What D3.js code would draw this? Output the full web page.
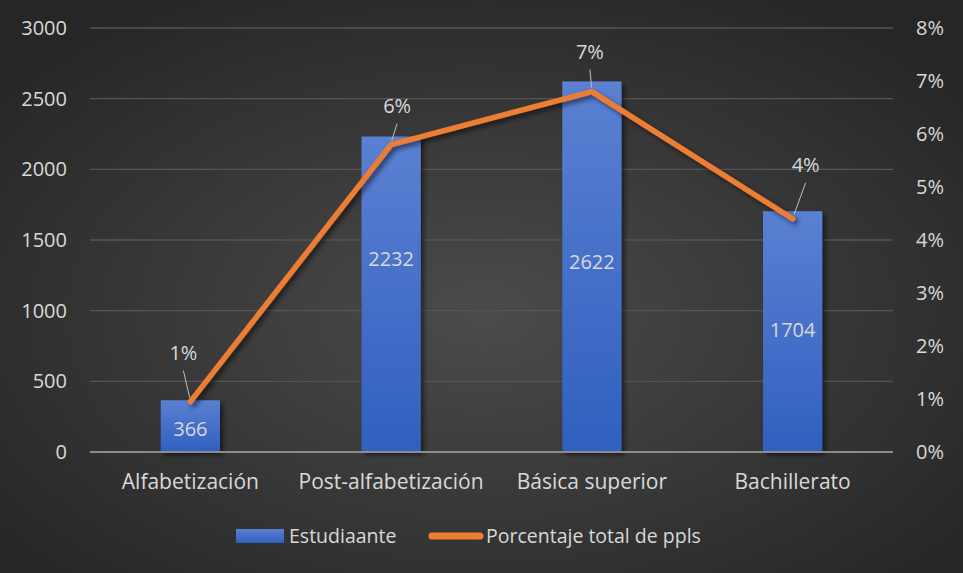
<html>
<head>
<meta charset="utf-8">
<title>Estudiantes</title>
<script src="https://d3js.org/d3.v7.min.js"></script>
<style>
  body { margin: 0; background: #2a2a2a; }
  text { font-family: "Open Sans", sans-serif; fill: #d9d9d9; }
</style>
</head>
<body>
<script>
// data
var categories = ["Alfabetización", "Post-alfabetización", "Básica superior", "Bachillerato"]
var estudiantes = [366, 2232, 2622, 1704]
var porcentaje = [0.0095, 0.058, 0.068, 0.044]
var leftTicks = [0, 500, 1000, 1500, 2000, 2500, 3000]
var rightTicks = [0, 0.01, 0.02, 0.03, 0.04, 0.05, 0.06, 0.07, 0.08]
var seriesNames = ["Estudiaante", "Porcentaje total de ppls"]

// label placement (moved by hand in the original)
var pctLabelOffset = [[-7, -49], [6, -39], [-2, -40], [13, -54]]
var barLabelShift = [2, -36, -5, -2]

var width = 963, height = 573
var plotLeft = 90, plotRight = 893, plotTop = 28, plotBottom = 452
var fs = 20

var svg = d3.select("body").append("svg")
  .attr("width", width)
  .attr("height", height)

var defs = svg.append("defs")
var bg = defs.append("radialGradient").attr("id", "bg")
  .attr("cx", "50%").attr("cy", "55%").attr("r", "65%")
bg.append("stop").attr("offset", "0%").attr("stop-color", "#4b4b4b")
bg.append("stop").attr("offset", "100%").attr("stop-color", "#262626")

var barGrad = defs.append("linearGradient").attr("id", "barGrad")
  .attr("x1", 0).attr("y1", 0).attr("x2", 0).attr("y2", 1)
barGrad.append("stop").attr("offset", "0%").attr("stop-color", "#5b80d2")
barGrad.append("stop").attr("offset", "100%").attr("stop-color", "#3060c0")

var shadow = defs.append("filter").attr("id", "shadow")
  .attr("x", "-20%").attr("y", "-20%").attr("width", "150%").attr("height", "150%")
shadow.append("feDropShadow").attr("dx", 3).attr("dy", 3).attr("stdDeviation", 2.5)
  .attr("flood-color", "#000").attr("flood-opacity", 0.55)

svg.append("rect").attr("width", width).attr("height", height).attr("fill", "url(#bg)")

var x = d3.scaleBand().domain(categories).range([plotLeft, plotRight])
  .paddingInner(0.705).paddingOuter(0.3525)
var y = d3.scaleLinear().domain([0, 3000]).range([plotBottom, plotTop])
var y2 = d3.scaleLinear().domain([0, 0.08]).range([plotBottom, plotTop])
var cx = function(d) { return x(d) + x.bandwidth() / 2 }

// gridlines
svg.append("g").selectAll("line")
  .data(leftTicks.filter(d => d > 0))
  .enter().append("line")
  .attr("x1", plotLeft).attr("x2", plotRight)
  .attr("y1", d => y(d)).attr("y2", d => y(d))
  .attr("stroke", "#555555").attr("stroke-width", 1.3)

// left axis
var yAxis = d3.axisLeft(y).tickValues(leftTicks).tickSize(0).tickPadding(0)
  .tickFormat(d3.format("d"))
var gy = svg.append("g").attr("transform", "translate(67,0)").call(yAxis)
gy.select(".domain").remove()
gy.selectAll("text").style("font-size", fs + "px").attr("fill", "#d9d9d9")
gy.attr("font-family", null)

// right axis
var y2Axis = d3.axisRight(y2).tickValues(rightTicks).tickSize(0).tickPadding(0)
  .tickFormat(d3.format(".0%"))
var gy2 = svg.append("g").attr("transform", "translate(916,0)").call(y2Axis)
gy2.select(".domain").remove()
gy2.selectAll("text").style("font-size", fs + "px").attr("fill", "#d9d9d9")
gy2.attr("font-family", null)

// bars
svg.append("g").attr("filter", "url(#shadow)").selectAll("rect")
  .data(estudiantes)
  .enter().append("rect")
  .attr("x", (d, i) => x(categories[i]))
  .attr("width", x.bandwidth())
  .attr("y", d => y(d))
  .attr("height", d => plotBottom - y(d))
  .attr("fill", "url(#barGrad)")

// baseline
svg.append("line").attr("x1", plotLeft).attr("x2", plotRight)
  .attr("y1", plotBottom).attr("y2", plotBottom)
  .attr("stroke", "#8c8c8c").attr("stroke-width", 2)

// bar labels
svg.append("g").selectAll("text")
  .data(estudiantes)
  .enter().append("text")
  .attr("x", (d, i) => cx(categories[i]))
  .attr("y", (d, i) => (y(d) + plotBottom) / 2 + barLabelShift[i])
  .attr("text-anchor", "middle")
  .attr("dominant-baseline", "central")
  .style("font-size", fs + "px")
  .text(d => d)

// line
var line = d3.line()
  .x((d, i) => cx(categories[i]))
  .y(d => y2(d))
svg.append("path").datum(porcentaje)
  .attr("d", line)
  .attr("fill", "none")
  .attr("stroke", "#ed7d31")
  .attr("stroke-width", 5.5)
  .attr("stroke-linejoin", "round")
  .attr("stroke-linecap", "round")
  .attr("filter", "url(#shadow)")

// percent labels with leader lines
var pl = svg.append("g")
porcentaje.forEach(function(d, i) {
  var px = cx(categories[i]), py = y2(d)
  var lx = px + pctLabelOffset[i][0], ly = py + pctLabelOffset[i][1]
  pl.append("line")
    .attr("x1", lx).attr("y1", ly + 18)
    .attr("x2", px + (lx - px) * 0.1).attr("y2", py - 4)
    .attr("stroke", "#bfbfbf").attr("stroke-width", 1)
  pl.append("text")
    .attr("x", lx).attr("y", ly)
    .attr("text-anchor", "middle")
    .attr("dominant-baseline", "central")
    .style("font-size", fs + "px")
    .text(d3.format(".0%")(d))
})

// category labels
svg.append("g").selectAll("text")
  .data(categories)
  .enter().append("text")
  .attr("x", d => cx(d))
  .attr("y", 489)
  .attr("text-anchor", "middle")
  .style("font-size", "21px")
  .text(d => d)

// legend
var lg = svg.append("g")
lg.append("rect").attr("x", 236).attr("y", 529).attr("width", 48).attr("height", 14)
  .attr("fill", "url(#barGrad)")
lg.append("text").attr("x", 289).attr("y", 543).style("font-size", "19.5px").text(seriesNames[0])
lg.append("line").attr("x1", 432).attr("x2", 480).attr("y1", 536).attr("y2", 536)
  .attr("stroke", "#ed7d31").attr("stroke-width", 7).attr("stroke-linecap", "round")
lg.append("text").attr("x", 486).attr("y", 543).style("font-size", "19.5px").text(seriesNames[1])
</script>
</body>
</html>
